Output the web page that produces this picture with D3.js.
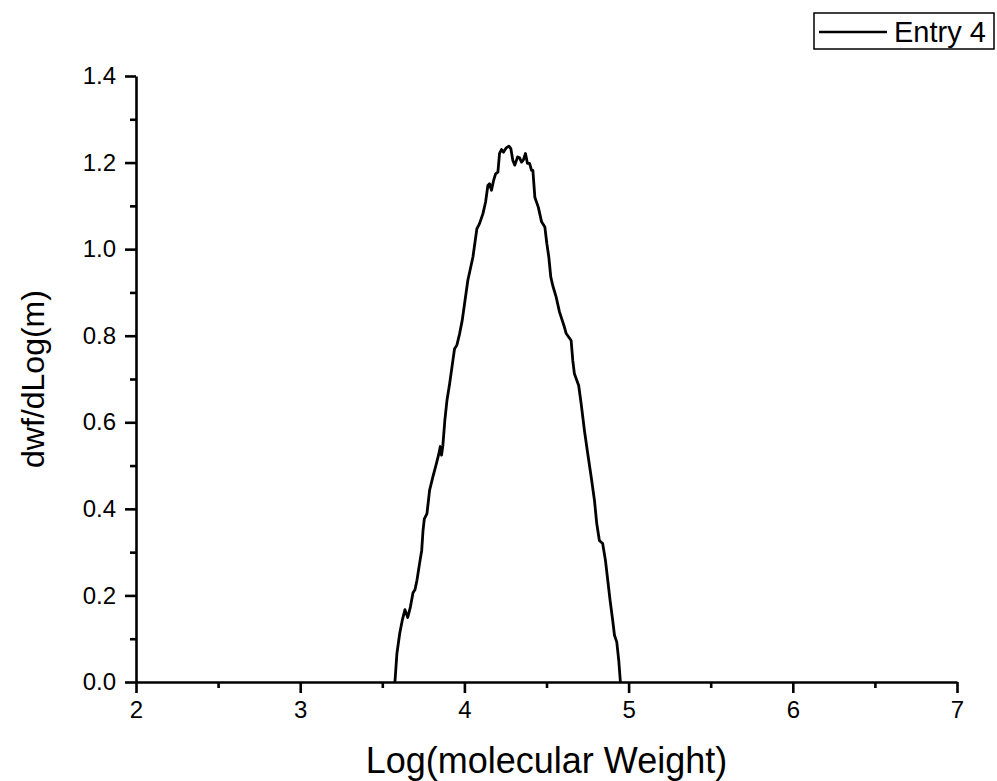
<!DOCTYPE html>
<html>
<head>
<meta charset="utf-8">
<script src="https://cdn.jsdelivr.net/npm/d3@7"></script>
<style>
  body { margin: 0; background: #fff; }
  svg text { font-family: Arial, "Liberation Sans", sans-serif; fill: #000; }
</style>
</head>
<body>
<div id="chart"></div>
<script>
// molecular weight distribution
var logM = [3.577, 3.589, 3.606, 3.622, 3.638, 3.655, 3.671, 3.687, 3.699, 3.711,
	3.727, 3.740, 3.748, 3.756, 3.772, 3.788, 3.808, 3.829, 3.845, 3.853,
	3.861, 3.869, 3.881, 3.894, 3.910, 3.930, 3.940, 3.954, 3.971, 3.987,
	4.001, 4.021, 4.052, 4.076, 4.092, 4.113, 4.129, 4.143, 4.153, 4.165,
	4.178, 4.190, 4.204, 4.214, 4.226, 4.238, 4.255, 4.271, 4.283, 4.295,
	4.307, 4.324, 4.336, 4.348, 4.360, 4.372, 4.384, 4.397, 4.409, 4.417,
	4.429, 4.450, 4.470, 4.490, 4.502, 4.514, 4.526, 4.538, 4.559, 4.579,
	4.609, 4.620, 4.650, 4.660, 4.670, 4.696, 4.711, 4.731, 4.751, 4.772,
	4.792, 4.806, 4.822, 4.842, 4.859, 4.873, 4.887, 4.903, 4.914, 4.928,
	4.940, 4.950];
var dwf = [0.000, 0.066, 0.112, 0.143, 0.167, 0.149, 0.173, 0.206, 0.213, 0.235,
	0.274, 0.304, 0.350, 0.377, 0.389, 0.443, 0.474, 0.504, 0.528, 0.544,
	0.524, 0.547, 0.605, 0.651, 0.689, 0.743, 0.770, 0.778, 0.805, 0.836,
	0.874, 0.928, 0.982, 1.047, 1.059, 1.082, 1.109, 1.147, 1.151, 1.136,
	1.159, 1.174, 1.178, 1.221, 1.230, 1.224, 1.234, 1.238, 1.232, 1.205,
	1.194, 1.213, 1.211, 1.201, 1.207, 1.221, 1.198, 1.198, 1.182, 1.182,
	1.120, 1.097, 1.063, 1.051, 1.013, 0.982, 0.936, 0.916, 0.889, 0.855,
	0.820, 0.805, 0.789, 0.743, 0.712, 0.685, 0.643, 0.581, 0.528, 0.474,
	0.420, 0.366, 0.327, 0.320, 0.281, 0.235, 0.189, 0.143, 0.108, 0.092,
	0.050, 0.000];

var xTicks = [2, 3, 4, 5, 6, 7];
var yTicks = [0, 0.2, 0.4, 0.6, 0.8, 1.0, 1.2, 1.4];
var seriesName = "Entry 4";
var xTitle = "Log(molecular Weight)";
var yTitle = "dwf/dLog(m)";

var width = 997, height = 781;
// plot box edges (don't call it "top", that's window.top)
var plotLeft = 136, plotRight = 957, plotTop = 76, plotBottom = 682;
var axisW = 2.6;

var svg = d3.select("#chart").append("svg")
	.attr("width", width)
	.attr("height", height);

var x = d3.scaleLinear().domain([2, 7]).range([plotLeft, plotRight]);
var y = d3.scaleLinear().domain([0, 1.4]).range([plotBottom, plotTop]);

// minor ticks first (half steps), then the major axis on top
var xMinor = d3.range(2.5, 7, 1);
var yMinor = d3.range(0.1, 1.4, 0.2);

svg.append("g")
	.attr("transform", "translate(0," + plotBottom + ")")
	.call(d3.axisBottom(x).tickValues(xMinor).tickSize(6).tickFormat(""))
	.call(function(g){ g.select(".domain").remove(); })
	.selectAll("line").attr("stroke-width", axisW);

svg.append("g")
	.attr("transform", "translate(" + plotLeft + ",0)")
	.call(d3.axisLeft(y).tickValues(yMinor).tickSize(6).tickFormat(""))
	.call(function(g){ g.select(".domain").remove(); })
	.selectAll("line").attr("stroke-width", axisW);

var xAxis = svg.append("g")
	.attr("transform", "translate(0," + plotBottom + ")")
	.call(d3.axisBottom(x).tickValues(xTicks).tickSize(11).tickSizeOuter(0).tickPadding(8).tickFormat(d3.format("d")));

var yAxis = svg.append("g")
	.attr("transform", "translate(" + plotLeft + ",0)")
	.call(d3.axisLeft(y).tickValues(yTicks).tickSize(11).tickSizeOuter(0).tickPadding(9).tickFormat(d3.format(".1f")));

[xAxis, yAxis].forEach(function(g){
	g.select(".domain").attr("stroke-width", axisW);
	g.selectAll(".tick line").attr("stroke-width", axisW);
	g.selectAll(".tick text")
		.style("font-family", "Arial, 'Liberation Sans', sans-serif")
		.attr("font-size", 24);
});

// curve
var line = d3.line()
	.x(function(d, i){ return x(logM[i]); })
	.y(function(d){ return y(d); });

svg.append("path")
	.datum(dwf)
	.attr("d", line)
	.attr("fill", "none")
	.attr("stroke", "#000")
	.attr("stroke-width", 2.8)
	.attr("stroke-linejoin", "round");

// titles
svg.append("text")
	.attr("x", (plotLeft + plotRight) / 2)
	.attr("y", 773)
	.attr("text-anchor", "middle")
	.attr("font-size", 36)
	.text(xTitle);

svg.append("text")
	.attr("transform", "translate(44," + (plotTop + plotBottom) / 2 + ") rotate(-90)")
	.attr("text-anchor", "middle")
	.attr("font-size", 32)
	.text(yTitle);

// legend
var legend = svg.append("g");
legend.append("rect")
	.attr("x", 814).attr("y", 13)
	.attr("width", 180).attr("height", 36)
	.attr("fill", "#fff")
	.attr("stroke", "#000")
	.attr("stroke-width", 1.5);
legend.append("line")
	.attr("x1", 819).attr("x2", 887)
	.attr("y1", 32).attr("y2", 32)
	.attr("stroke", "#000")
	.attr("stroke-width", 2.6);
legend.append("text")
	.attr("x", 894).attr("y", 42)
	.attr("font-size", 29)
	.text(seriesName);
</script>
</body>
</html>
